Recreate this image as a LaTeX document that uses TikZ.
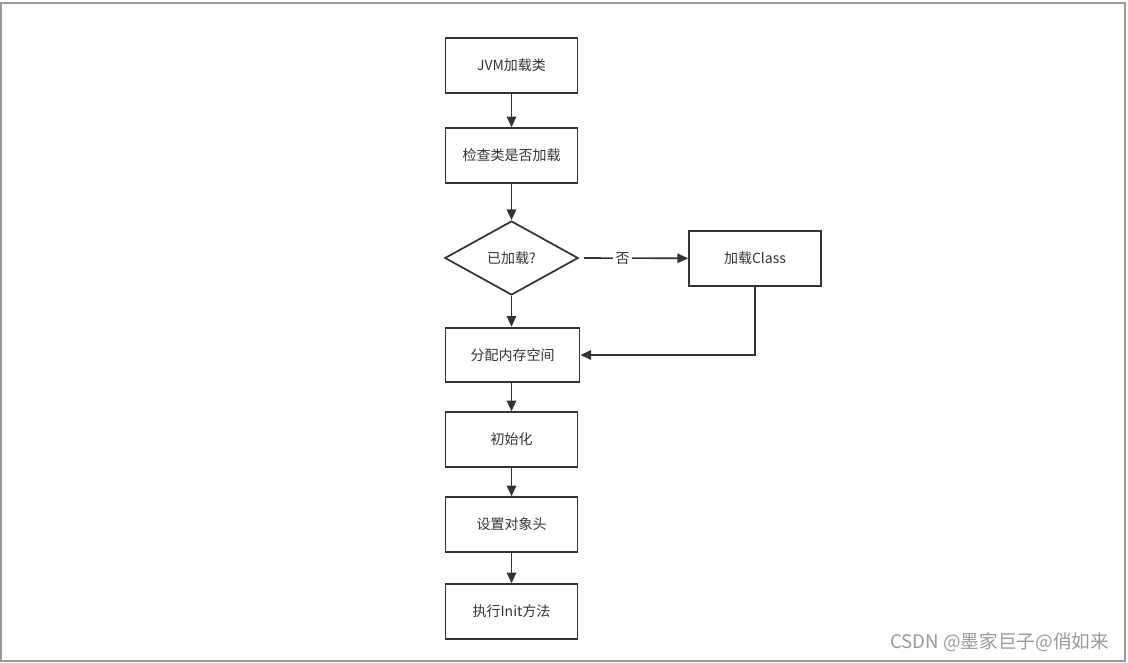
\documentclass[tikz,border=0pt]{standalone}
\usepackage{fontspec}
\setmainfont{Noto Sans CJK SC}
\usetikzlibrary{shapes.geometric, arrows.meta, positioning}

\begin{document}
\begin{tikzpicture}[x=0.75pt, y=-0.75pt,
  box/.style={draw=black!80, line width=1.3pt, minimum width=99pt, minimum height=41pt, inner sep=0pt, font=\fontsize{10.5pt}{12pt}\selectfont, text=black!80},
  decision/.style={draw=black!80, line width=1.3pt, diamond, minimum width=100pt, minimum height=55.5pt, inner sep=0pt, font=\fontsize{10.5pt}{12pt}\selectfont, text=black!80},
  line/.style={draw=black!80, line width=1.2pt, -{Triangle[length=8pt, width=7pt]}}]
\useasboundingbox (0,0) rectangle (1128,663);
\draw [black!40, line width=0.9pt] (1,3) rectangle (1125,661);

\node [box] (jvm) at (511.5,65.5) {JVM加载类};
\node [box] (check) at (511.5,155.5) {检查类是否加载};
\node [decision] (loaded) at (511.5,258) {已加载?};
\node [box] (load) at (755,258.5) {加载Class};
\node [box, minimum width=100.5pt] (alloc) at (512.5,355) {分配内存空间};
\node [box] (init) at (511.5,439.5) {初始化};
\node [box] (header) at (511.5,524.5) {设置对象头};
\node [box] (exec) at (511.5,611.5) {执行Init方法};

\draw [line] (jvm) -- (check);
\draw [line] (check) -- (loaded);
\draw [line] (loaded.east) ++(5,0) coordinate (no) -- (load) node [pos=0.37, fill=white, inner sep=2pt, font=\fontsize{10.5pt}{12pt}\selectfont, text=black!80] {否};
\draw [line] (loaded) -- (alloc.north -| loaded);
\draw [line] (load.south) |- (alloc.east);
\draw [line] (alloc.south -| init) -- (init);
\draw [line] (init) -- (header);
\draw [line] (header) -- (exec);

\node [anchor=east, text=black!40, font=\fontsize{14pt}{16pt}\selectfont] (mark) at (1114,642) {CSDN @墨家巨子@俏如来};
\end{tikzpicture}
\end{document}
